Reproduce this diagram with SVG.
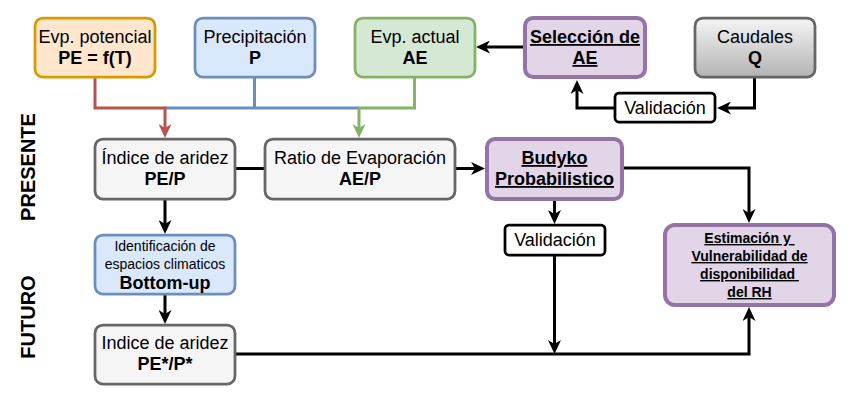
<svg xmlns="http://www.w3.org/2000/svg" width="852" height="408" viewBox="0 0 852 408">
<style>
text{font-family:"Liberation Sans",Arial,sans-serif;font-size:18px;fill:#000;text-anchor:middle}
.b{font-weight:bold}
.u{text-decoration:underline}
.s{font-size:14px}
.lab{font-size:20px;font-weight:bold}
.gray{fill:#f5f5f5;stroke:#666666;stroke-width:2.75}
.pur{fill:#e1d5e7;stroke:#9673a6;stroke-width:4}
.wht{fill:#ffffff;stroke:#000000;stroke-width:2.75}
.c{fill:none;stroke-width:3}
.k{stroke:#000}
</style>
<defs>
<linearGradient id="gq" x1="0" y1="0" x2="0" y2="1">
<stop offset="0" stop-color="#f5f5f5"/>
<stop offset="1" stop-color="#b3b3b3"/>
</linearGradient>
<marker id="ak" viewBox="0 0 14 13" refX="4" refY="6.5" markerWidth="14" markerHeight="13" markerUnits="userSpaceOnUse" orient="auto"><path d="M0,0 L14,6.5 L0,13 L4,6.5 Z" fill="#000"/></marker>
<marker id="ar" viewBox="0 0 14 13" refX="4" refY="6.5" markerWidth="14" markerHeight="13" markerUnits="userSpaceOnUse" orient="auto"><path d="M0,0 L14,6.5 L0,13 L4,6.5 Z" fill="#b85450"/></marker>
<marker id="ag" viewBox="0 0 14 13" refX="4" refY="6.5" markerWidth="14" markerHeight="13" markerUnits="userSpaceOnUse" orient="auto"><path d="M0,0 L14,6.5 L0,13 L4,6.5 Z" fill="#82b366"/></marker>
</defs>

<g id="connectors">
<path class="c" stroke="#6c8ebf" d="M254.5,78 V108 M165,108 H359"/>
<path class="c" stroke="#b85450" d="M95,78 V108 H165 V128" marker-end="url(#ar)"/>
<path class="c" stroke="#82b366" d="M414.5,78 V108 H359 V128" marker-end="url(#ag)"/>
<path class="c k" d="M523,47 H486" marker-end="url(#ak)"/>
<path class="c k" d="M754.5,78 V108 H727" marker-end="url(#ak)"/>
<path class="c k" d="M614,108 H577 V90" marker-end="url(#ak)"/>
<path class="c k" d="M235,168.5 H264"/>
<path class="c k" d="M455,168.5 H475" marker-end="url(#ak)"/>
<path class="c k" d="M623,168 H749 V213" marker-end="url(#ak)"/>
<path class="c k" d="M554.5,201 V214" marker-end="url(#ak)"/>
<path class="c k" d="M165,199 V224" marker-end="url(#ak)"/>
<path class="c k" d="M165,295 V314" marker-end="url(#ak)"/>
<path class="c k" d="M235,354 H749 V317" marker-end="url(#ak)"/>
<path class="c k" d="M554.5,255 V344" marker-end="url(#ak)"/>
</g>

<g id="label-presente"><text class="lab" transform="translate(35,167) rotate(-90)">PRESENTE</text></g>
<g id="label-futuro"><text class="lab" transform="translate(35,317) rotate(-90)">FUTURO</text></g>

<g id="node-pe">
<rect x="35" y="18" width="120" height="59" rx="8" fill="#ffe6cc" stroke="#d79b00" stroke-width="2.75"/>
<text x="95" y="43">Evp. potencial</text>
<text x="95" y="64" class="b">PE = f(T)</text>
</g>
<g id="node-p">
<rect x="195" y="18" width="120" height="59" rx="8" fill="#dae8fc" stroke="#6c8ebf" stroke-width="2.75"/>
<text x="255" y="43">Precipitación</text>
<text x="255" y="64" class="b">P</text>
</g>
<g id="node-ae">
<rect x="355" y="18" width="120" height="59" rx="8" fill="#d5e8d4" stroke="#82b366" stroke-width="2.75"/>
<text x="415" y="43">Evp. actual</text>
<text x="415" y="64" class="b">AE</text>
</g>
<g id="node-seleccion">
<rect x="525" y="18" width="120" height="59" rx="8" class="pur"/>
<text x="585" y="43" class="b u">Selección de</text>
<text x="585" y="64" class="b u">AE</text>
</g>
<g id="node-caudales">
<rect x="695" y="18" width="120" height="59" rx="8" fill="url(#gq)" stroke="#666666" stroke-width="2.75"/>
<text x="755" y="43">Caudales</text>
<text x="755" y="64" class="b">Q</text>
</g>
<g id="node-validacion1">
<rect x="615" y="93" width="100" height="29" rx="4" class="wht"/>
<text x="665" y="114">Validación</text>
</g>
<g id="node-indice">
<rect x="95" y="139" width="140" height="60" rx="8" class="gray"/>
<text x="165" y="164">Índice de aridez</text>
<text x="165" y="185" class="b">PE/P</text>
</g>
<g id="node-ratio">
<rect x="265" y="139" width="190" height="60" rx="8" class="gray"/>
<text x="360" y="164">Ratio de Evaporación</text>
<text x="360" y="185" class="b">AE/P</text>
</g>
<g id="node-budyko">
<rect x="487" y="139" width="135" height="60" rx="8" class="pur"/>
<text x="554.5" y="164" class="b u">Budyko</text>
<text x="554.5" y="185" class="b u">Probabilistico</text>
</g>
<g id="node-validacion2">
<rect x="505" y="225" width="100" height="30" rx="4" class="wht"/>
<text x="555" y="246">Validación</text>
</g>
<g id="node-estimacion">
<rect x="665" y="225" width="169" height="80" rx="10" class="pur"/>
<text x="749.5" y="243" class="b u s" xml:space="preserve">Estimación y </text>
<text x="749.5" y="261" class="b u s">Vulnerabilidad de</text>
<text x="749.5" y="279" class="b u s" xml:space="preserve">disponibilidad </text>
<text x="749.5" y="297" class="b u s">del RH</text>
</g>
<g id="node-identificacion">
<rect x="95" y="235" width="140" height="59" rx="8" fill="#dae8fc" stroke="#6c8ebf" stroke-width="2.75"/>
<text x="165" y="251" class="s">Identificación de</text>
<text x="165" y="269" class="s">espacios climaticos</text>
<text x="165" y="289" class="b">Bottom-up</text>
</g>
<g id="node-indice-futuro">
<rect x="95" y="325" width="140" height="59" rx="8" class="gray"/>
<text x="165" y="349">Indice de aridez</text>
<text x="165" y="370" class="b">PE*/P*</text>
</g>
</svg>
